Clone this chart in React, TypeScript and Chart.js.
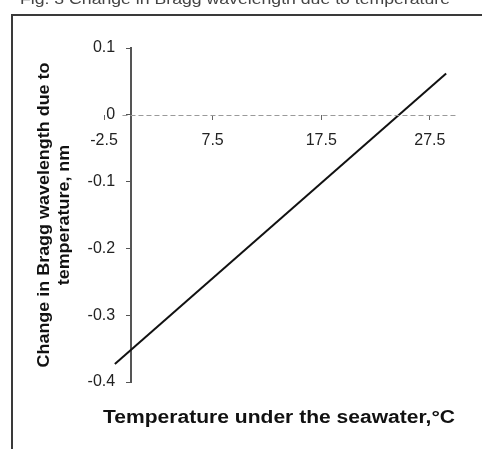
import React, { useEffect, useRef } from "react";
import { Chart, registerables } from "chart.js";

Chart.register(...registerables);

const temperatures = [-1.5, 29];
const wavelengthChange = [-0.373, 0.062];
const xTickValues = [-2.5, 7.5, 17.5, 27.5];
const yTitleLines = ["Change in Bragg wavelength due to", "temperature, nm"];
const xTitle = "Temperature under the seawater,\u00B0C";
const figTitle = "Fig. 3 Change in Bragg wavelength due to temperature";

const FONT = "'Liberation Sans', Arial, sans-serif";

function stretchedText(ctx: any, text: string, cx: number, cy: number, targetWidth: number) {
  const w = ctx.measureText(text).width;
  const s = targetWidth / w;
  ctx.save();
  ctx.translate(cx, cy);
  ctx.scale(s, 1);
  ctx.fillText(text, 0, 0);
  ctx.restore();
}

const decorPlugin = {
  id: "decor",
  beforeDraw(chart: any) {
    const ctx = chart.ctx;
    ctx.save();
    ctx.fillStyle = "#ffffff";
    ctx.fillRect(0, 0, chart.width, chart.height);
    ctx.restore();
  },
  afterDraw(chart: any) {
    const ctx = chart.ctx;
    const xs = chart.scales.x;
    const ys = chart.scales.y;
    ctx.save();
    // frame
    ctx.strokeStyle = "#3a3a3a";
    ctx.lineWidth = 2;
    ctx.beginPath();
    ctx.moveTo(12, chart.height + 5);
    ctx.lineTo(12, 15);
    ctx.lineTo(chart.width + 5, 15);
    ctx.stroke();
    // clipped figure caption at top
    ctx.fillStyle = "#444";
    ctx.font = `15px ${FONT}`;
    ctx.textAlign = "left";
    ctx.textBaseline = "alphabetic";
    stretchedText(ctx, figTitle, 20, 4, 430);
    // dashed zero line (x axis)
    const y0 = Math.round(ys.getPixelForValue(0)) + 0.5;
    ctx.strokeStyle = "#9a9a9a";
    ctx.lineWidth = 1;
    ctx.setLineDash([5, 3]);
    ctx.beginPath();
    ctx.moveTo(xs.getPixelForValue(-0.8), y0);
    ctx.lineTo(xs.right, y0);
    ctx.stroke();
    ctx.setLineDash([]);
    // y title
    ctx.fillStyle = "#111";
    ctx.font = `bold 16px ${FONT}`;
    ctx.textAlign = "center";
    ctx.textBaseline = "middle";
    ctx.save();
    ctx.translate(45, 215);
    ctx.rotate(-Math.PI / 2);
    stretchedText(ctx, yTitleLines[0], 0, 0, 305);
    const r = ctx.measureText(yTitleLines[1]).width / ctx.measureText(yTitleLines[0]).width;
    stretchedText(ctx, yTitleLines[1], 0, 20, 305 * r);
    ctx.restore();
    // x title
    ctx.font = `bold 18px ${FONT}`;
    stretchedText(ctx, xTitle, 279, 418, 352);
    ctx.restore();
  },
};

export default function App() {
  const ref = useRef<HTMLCanvasElement>(null);
  useEffect(() => {
    if (!ref.current) return;
    const chart = new Chart(ref.current, {
      type: "scatter",
      data: {
        datasets: [
          {
            data: temperatures.map((t, i) => ({ x: t, y: wavelengthChange[i] })),
            showLine: true,
            borderColor: "#111",
            borderWidth: 2,
            pointRadius: 0,
            fill: false,
          },
        ],
      },
      options: {
        animation: false,
        responsive: false,
        devicePixelRatio: 1,
        layout: { padding: { left: 104, right: 25, top: 48, bottom: 67 } },
        plugins: { legend: { display: false }, tooltip: { enabled: false } },
        scales: {
          x: {
            type: "linear",
            position: { y: 0 } as any,
            min: -2.5,
            max: 30,
            afterBuildTicks: (scale: any) => {
              scale.ticks = xTickValues.map((v) => ({ value: v }));
            },
            grid: {
              drawOnChartArea: false,
              drawTicks: true,
              tickLength: 5,
              color: "#666",
            },
            border: { display: false },
            ticks: {
              color: "#222",
              font: { family: FONT, size: 16 },
              padding: 11,
              maxRotation: 0,
              callback: (v: any) => String(v),
            },
          },
          y: {
            type: "linear",
            position: { x: 0 } as any,
            min: -0.4,
            max: 0.1,
            grid: {
              drawOnChartArea: false,
              drawTicks: true,
              tickLength: 4,
              color: "#555",
            },
            border: { display: true, color: "#555", width: 2 },
            ticks: {
              stepSize: 0.1,
              color: "#222",
              font: { family: FONT, size: 16 },
              padding: 6,
              callback: (v: any) => String(Math.round(Number(v) * 10) / 10) + "\u2002\u2002",
            },
          },
        },
      },
      plugins: [decorPlugin],
    });
    return () => chart.destroy();
  }, []);
  return (
    <div style={{ position: "fixed", left: 0, top: 0, width: 482, height: 449, background: "#fff" }}>
      <canvas ref={ref} width={482} height={449} style={{ width: 482, height: 449, display: "block" }} />
    </div>
  );
}
